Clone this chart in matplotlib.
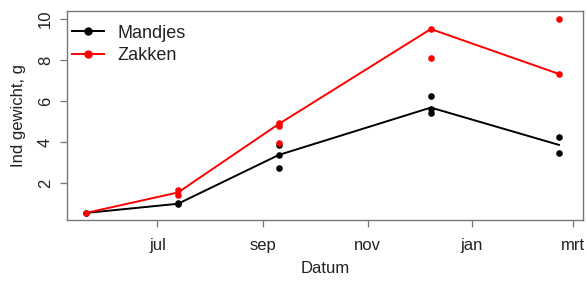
import numpy as np
import matplotlib.pyplot as plt
from matplotlib.lines import Line2D

plt.rcParams['font.family'] = ['Liberation Sans', 'DejaVu Sans']

# sampling dates and weights
dates = np.array(['2014-05-20', '2014-07-13', '2014-09-10', '2014-12-08', '2015-02-21'],
                 dtype='datetime64[D]')

mandjes_line = [0.55, 1.0, 3.38, 5.69, 3.87]
zakken_line = [0.55, 1.55, 4.89, 9.52, 7.33]

# individual measurements (date index, value)
mandjes_idx = [0, 1, 1, 2, 2, 2, 3, 3, 3, 4, 4]
mandjes_pts = [0.55, 1.0, 1.05, 3.87, 3.38, 2.76, 6.26, 5.62, 5.44, 4.27, 3.46]
zakken_idx = [0, 1, 1, 2, 2, 2, 3, 3, 4, 4]
zakken_pts = [0.55, 1.67, 1.42, 4.96, 4.8, 3.95, 9.52, 8.1, 10.0, 7.33]

tick_dates = np.array(['2014-07-01', '2014-09-01', '2014-11-01', '2015-01-01', '2015-03-01'],
                      dtype='datetime64[D]')
tick_labels = ['jul', 'sep', 'nov', 'jan', 'mrt']

fig = plt.figure(figsize=(5.87, 2.82), dpi=100)
ax = fig.add_axes([0.114, 0.22, 0.879, 0.741])

txt = '#222222'
ax.plot(dates, mandjes_line, color='black', lw=1.4)
ax.plot(dates, zakken_line, color='red', lw=1.4)
ax.scatter(dates[mandjes_idx], mandjes_pts, color='black', s=14, zorder=3)
ax.scatter(dates[zakken_idx], zakken_pts, color='red', s=14, zorder=3)

ax.set_xlim(np.datetime64('2014-05-09'), np.datetime64('2015-03-07'))
ax.set_ylim(0.21, 10.4)
ax.set_xticks(tick_dates)
ax.set_xticklabels(tick_labels)
ax.set_yticks([2, 4, 6, 8, 10])
ax.set_yticklabels(['2', '4', '6', '8', '10'], rotation=90, va='center')

for s in ax.spines.values():
    s.set_color('#777777')
    s.set_linewidth(1.0)
ax.tick_params(direction='out', length=5, width=0.9, color='#777777',
               labelsize=12, labelcolor=txt, pad=5)
ax.tick_params(axis='x', pad=8)
ax.set_xlabel('Datum', fontsize=12, color=txt, labelpad=6)
ax.set_ylabel('Ind gewicht, g', fontsize=12, color=txt, labelpad=9)

handles = [Line2D([], [], color='black', lw=1.4, marker='o', ms=5),
           Line2D([], [], color='red', lw=1.4, marker='o', ms=5)]
ax.legend(handles, ['Mandjes', 'Zakken'], loc='upper left', frameon=False,
          fontsize=13, handlelength=1.75, handletextpad=0.75, labelspacing=0.3,
          borderpad=0.3, borderaxespad=0, bbox_to_anchor=(0.0, 0.96),
          labelcolor=txt)

plt.savefig('out.png', dpi=100)
